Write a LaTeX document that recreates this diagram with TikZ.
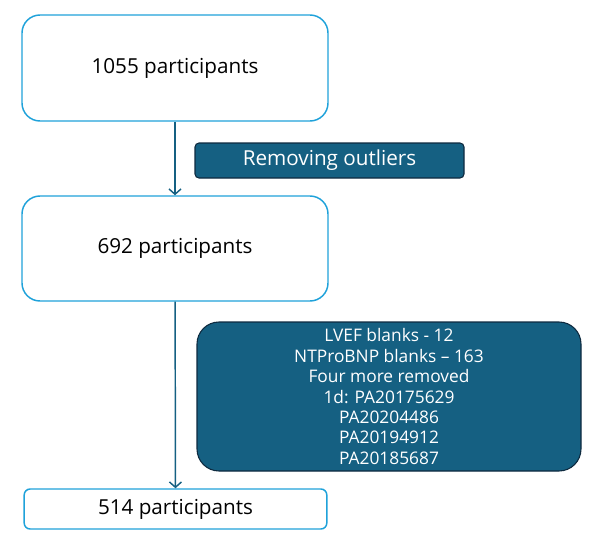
\documentclass[tikz,border=0pt]{standalone}
\usepackage{fontspec}
\setmainfont{Open Sans}
\usetikzlibrary{arrows.meta}
\definecolor{boxline}{HTML}{1FA2DA}
\definecolor{tealfill}{HTML}{156082}
\definecolor{tealdark}{HTML}{0E2A3F}

\tikzset{
  countbox/.style={draw=boxline, line width=1.1pt, fill=white, rounded corners=#1,
    align=center, inner sep=0pt, font=\fontsize{15.5}{18}\selectfont},
  notebox/.style={draw=tealdark, fill=tealfill, text=white, line width=0.8pt,
    rounded corners=#1, align=center, inner sep=0pt},
  flow/.style={draw=tealfill, line width=1.1pt, -{Straight Barb[length=4pt,width=9pt]}}
}

\begin{document}
\begin{tikzpicture}[x=0.75pt, y=-0.75pt]
\useasboundingbox (0,0) rectangle (593,540);
\node[countbox=13.5pt, minimum width=229.5pt, minimum height=79.5pt] (start) at (175,68) {1055 participants};
\node[notebox=3pt, minimum width=201.75pt, minimum height=26.25pt,
  font=\fontsize{15.5}{18}\selectfont] (outliers) at (329.5,160.5) {Removing outliers};
\node[countbox=13.5pt, minimum width=229.5pt, minimum height=78.75pt] (mid) at (175,248.5) {692 participants};
\node[notebox=16.5pt, minimum width=288pt, minimum height=111.75pt,
  font=\fontsize{13}{15.3}\selectfont] (blanks) at (389,396.5)
  {LVEF blanks - 12\\NTProBNP blanks – 163\\Four more removed\\1d: PA20175629\\PA20204486\\PA20194912\\PA20185687};
\node[countbox=4.5pt, minimum width=227pt, minimum height=30pt] (final) at (175.5,509) {514 participants};
\draw[flow] (start) -- (mid);
\draw[flow] (mid) -- (final);
\end{tikzpicture}
\end{document}
